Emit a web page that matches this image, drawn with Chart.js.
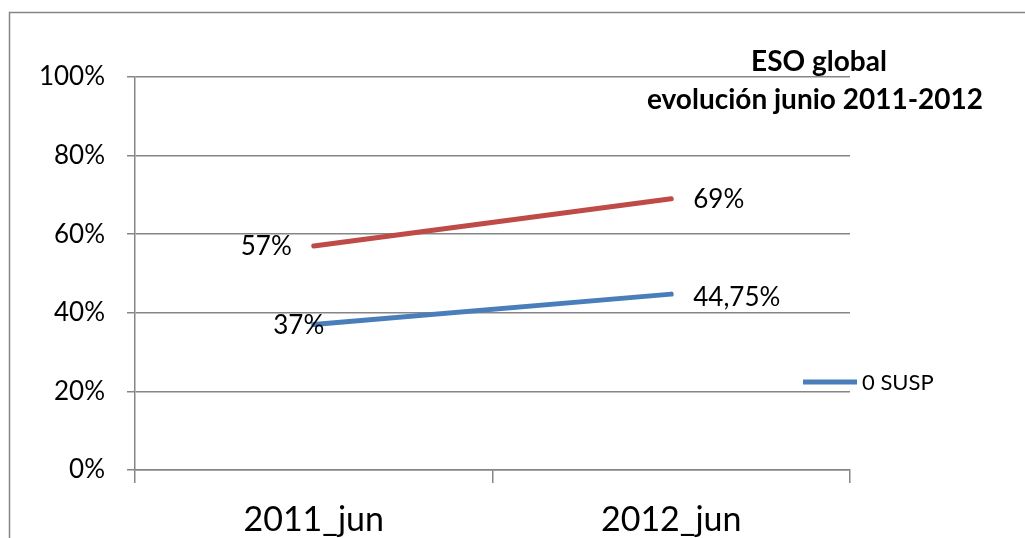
<!DOCTYPE html>
<html>
<head>
<meta charset="utf-8">
<script src="https://cdn.jsdelivr.net/npm/chart.js"></script>
<style>
    html, body { margin: 0; padding: 0; background: #fff; }
</style>
</head>
<body>
<canvas id="myChart" width="1025" height="538"></canvas>
<script>
// data
const categories = ['2011_jun', '2012_jun'];
const susp0 = [37, 44.75];
const otherSeries = [57, 69];
const yTicks = [0, 20, 40, 60, 80, 100];
const titleLines = ['ESO global', 'evolución junio 2011-2012'];

const gridGrey = '#868686';
const fontFamily = 'Lato, "Liberation Sans", sans-serif';

function pct(v) {
    return String(v).replace('.', ',') + '%';
}

// background frame (the chart is cropped, only top and left edges show)
const framePlugin = {
    id: 'frame',
    beforeDraw(chart) {
        const c = chart.ctx;
        c.save();
        c.strokeStyle = gridGrey;
        c.lineWidth = 1.5;
        c.beginPath();
        c.moveTo(9.5, chart.height);
        c.lineTo(9.5, 12.5);
        c.lineTo(chart.width, 12.5);
        c.stroke();
        c.restore();
    }
};

// value labels next to the points
const labelPlugin = {
    id: 'valueLabels',
    afterDatasetsDraw(chart, args, opts) {
        const c = chart.ctx;
        c.save();
        c.font = opts.size + 'px ' + fontFamily;
        c.fillStyle = '#000';
        c.textBaseline = 'middle';
        chart.data.datasets.forEach((ds, i) => {
            const meta = chart.getDatasetMeta(i);
            meta.data.forEach((pt, j) => {
                const place = opts.place[i][j];
                c.textAlign = place.align;
                c.fillText(pct(ds.data[j]), pt.x + place.dx, pt.y + place.dy);
            });
        });
        c.restore();
    }
};

// title inside the plot and the single legend entry
const extrasPlugin = {
    id: 'extras',
    afterDraw(chart) {
        const c = chart.ctx;
        c.save();
        c.fillStyle = '#000';
        c.textAlign = 'center';
        c.textBaseline = 'middle';
        c.font = 'bold 28px ' + fontFamily;
        c.fillText(titleLines[0], 819, 62);
        c.fillText(titleLines[1], 815, 100);

        const ds = chart.data.datasets[0];
        c.strokeStyle = ds.borderColor;
        c.lineWidth = 5;
        c.beginPath();
        c.moveTo(803, 382);
        c.lineTo(857, 382);
        c.stroke();
        c.textAlign = 'left';
        c.font = '22px ' + fontFamily;
        c.fillText(ds.label, 862, 383);
        c.restore();
    }
};

new Chart(document.querySelector('#myChart').getContext('2d'), {
    type: 'line',
    data: {
        labels: categories,
        datasets: [{
            label: '0 SUSP',
            data: susp0,
            borderColor: '#4a7ebb',
            borderWidth: 5,
            pointRadius: 0,
            borderCapStyle: 'round'
        }, {
            label: 'Serie 2',
            data: otherSeries,
            borderColor: '#be4b48',
            borderWidth: 5,
            pointRadius: 0,
            borderCapStyle: 'round'
        }]
    },
    options: {
        responsive: false,
        animation: false,
        layout: { padding: { top: 77, right: 175, left: 0, bottom: 0 } },
        plugins: {
            legend: { display: false },
            title: { display: false },
            tooltip: { enabled: false },
            valueLabels: {
                size: 26,
                place: [
                    [{ align: 'center', dx: -15, dy: 1 }, { align: 'left', dx: 22, dy: 3 }],
                    [{ align: 'right', dx: -22, dy: 1 }, { align: 'left', dx: 22, dy: 1 }]
                ]
            }
        },
        scales: {
            x: {
                offset: true,
                grid: { offset: true, drawOnChartArea: false, tickLength: 13, color: gridGrey, lineWidth: 1.5 },
                border: { color: gridGrey, width: 1.5 },
                ticks: { color: '#000', font: { family: fontFamily, size: 34 }, padding: 17 },
                afterFit(s) { s.height = 68; }
            },
            y: {
                min: 0,
                max: 100,
                afterBuildTicks(s) { s.ticks = yTicks.map(v => ({ value: v })); },
                grid: { color: gridGrey, tickLength: 8, lineWidth: 1.5 },
                border: { color: gridGrey, width: 1.5 },
                ticks: { color: '#000', font: { family: fontFamily, size: 26 }, padding: 22, callback: v => v + '%' },
                afterFit(s) { s.width = 135; }
            }
        }
    },
    plugins: [framePlugin, labelPlugin, extrasPlugin]
});
</script>
</body>
</html>
